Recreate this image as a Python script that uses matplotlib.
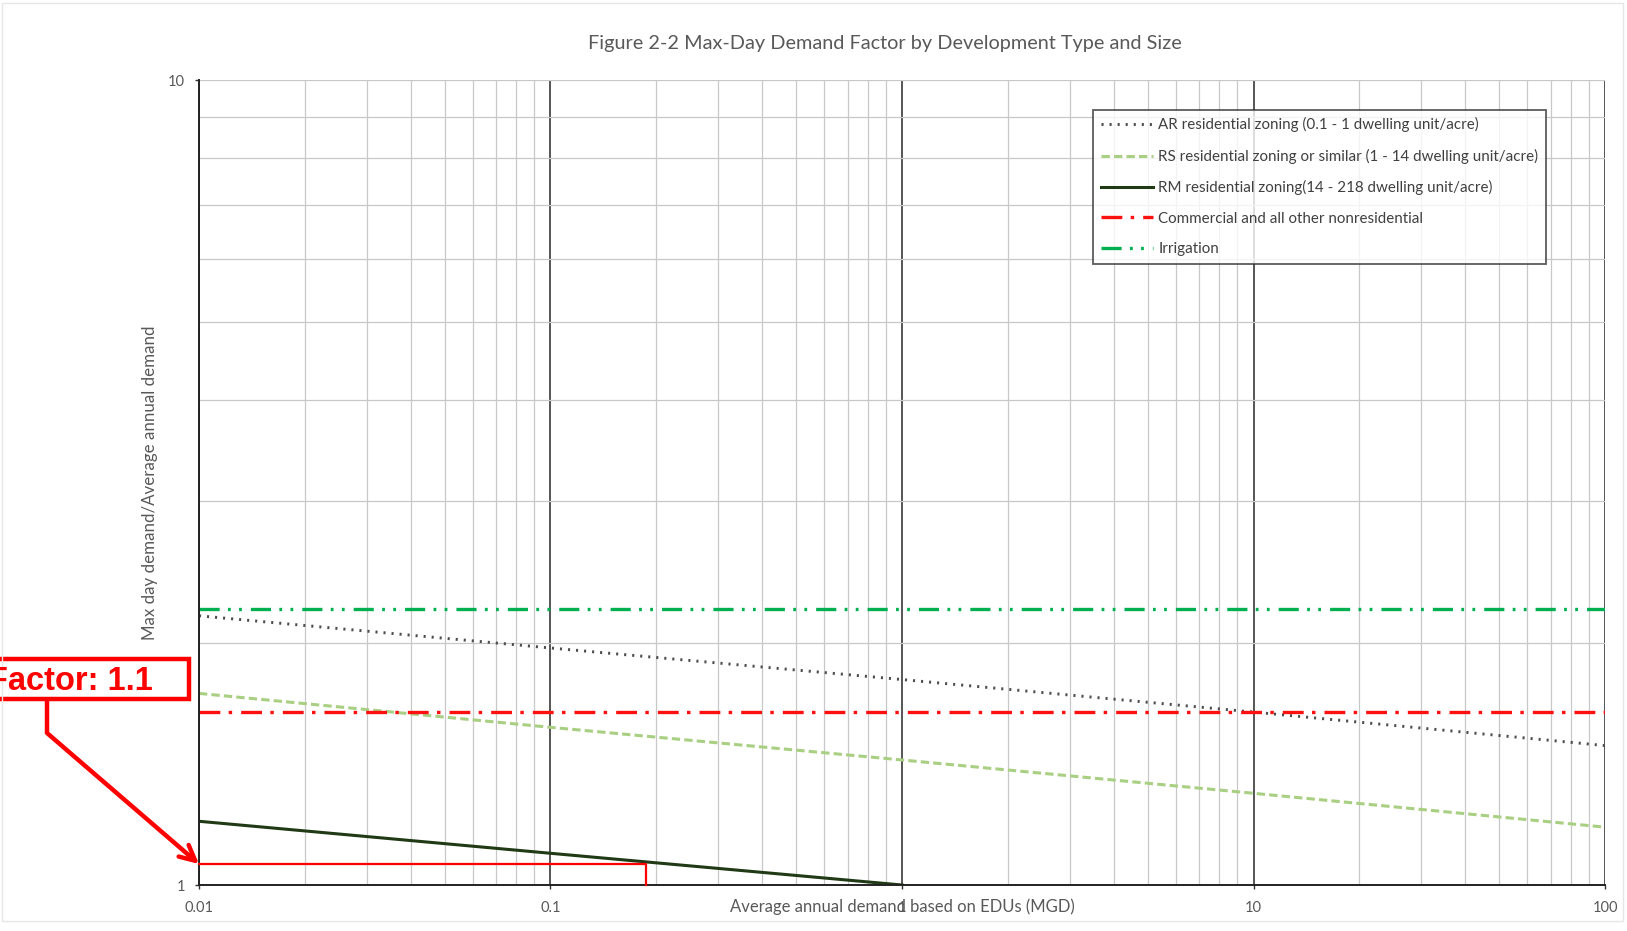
import matplotlib
matplotlib.use("Agg")
import matplotlib.pyplot as plt
from matplotlib.ticker import FixedLocator, FixedFormatter, NullFormatter
from matplotlib.patches import Rectangle

# ---------------- data ----------------
x_points = [0.01, 0.1, 1, 10, 100]
ar_values = [2.16, 1.97, 1.80, 1.64, 1.49]
rs_values = [1.73, 1.57, 1.43, 1.30, 1.18]
rm_x = [0.01, 0.1, 1]
rm_values = [1.20, 1.095, 1.0]
commercial_values = [1.64, 1.64, 1.64, 1.64, 1.64]
irrigation_values = [2.20, 2.20, 2.20, 2.20, 2.20]

labels = [
    "AR residential zoning (0.1 - 1 dwelling unit/acre)",
    "RS residential zoning or similar (1 - 14 dwelling unit/acre)",
    "RM residential zoning(14 - 218 dwelling unit/acre)",
    "Commercial and all other nonresidential",
    "Irrigation",
]
x_ticks = [0.01, 0.1, 1, 10, 100]
x_ticklabels = ["0.01", "0.1", "1", "10", "100"]
y_ticks = [1, 10]
y_ticklabels = ["1", "10"]

title = "Figure 2-2 Max-Day Demand Factor by Development Type and Size"
xlabel = "Average annual demand based on EDUs (MGD)"
ylabel = "Max day demand/Average annual demand"

factor_text = "Factor: 1.1"
factor_x = [0.01, 0.187, 0.187]
factor_y = [1.062, 1.062, 1.0]

# ---------------- style ----------------
plt.rcParams["font.family"] = ["Lato", "DejaVu Sans"]
plt.rcParams["lines.scale_dashes"] = False

fig = plt.figure(figsize=(16.27, 9.31), dpi=100)
ax = fig.add_axes([0.1223, 0.0494, 0.8642, 0.8646])
ax.set_xscale("log")
ax.set_yscale("log")
ax.set_xlim(0.01, 100)
ax.set_ylim(1, 10)

ax.plot(x_points, ar_values, color="#4d4d4d", lw=2.1, dashes=(1.5, 4.3),
        dash_capstyle="butt", label=labels[0], zorder=3)
ax.plot(x_points, rs_values, color="#a9cf82", lw=2.2, dashes=(6, 3),
        label=labels[1], zorder=3)
ax.plot(rm_x, rm_values, color="#1f3a14", lw=2.2, label=labels[2], zorder=3)
ax.plot(x_points, commercial_values, color="#ff1010", lw=2.4,
        dashes=(15, 6, 2.5, 6.5), label=labels[3], zorder=3)
ax.plot(x_points, irrigation_values, color="#00b050", lw=2.4,
        dashes=(14.5, 6, 2, 6, 2, 6.5), label=labels[4], zorder=3)

# grid
ax.xaxis.set_major_locator(FixedLocator(x_ticks))
ax.xaxis.set_major_formatter(FixedFormatter(x_ticklabels))
ax.xaxis.set_minor_formatter(NullFormatter())
ax.yaxis.set_major_locator(FixedLocator(y_ticks))
ax.yaxis.set_major_formatter(FixedFormatter(y_ticklabels))
ax.yaxis.set_minor_formatter(NullFormatter())
ax.grid(True, which="major", axis="x", color="#555555", lw=1.4, zorder=1)
ax.grid(True, which="minor", axis="x", color="#c8c8c8", lw=0.9, zorder=1)
ax.grid(True, which="both", axis="y", color="#c8c8c8", lw=0.9, zorder=1)
ax.tick_params(which="minor", length=0)
ax.tick_params(which="major", length=3, width=1, color="#333333",
               labelsize=10.5, labelcolor="#595959")
ax.tick_params(axis="x", pad=8.5)
ax.tick_params(axis="y", pad=7)

for s in ["top", "right"]:
    ax.spines[s].set_visible(False)
for s in ["left", "bottom"]:
    ax.spines[s].set_color("#222222")
    ax.spines[s].set_linewidth(1.4)
    ax.spines[s].set_zorder(4)

ax.set_xlabel(xlabel, fontsize=12, color="#595959")
ax.xaxis.set_label_coords(0.5, -0.0273)
ax.xaxis.label.set_va("center")
ax.set_ylabel(ylabel, fontsize=12.2, color="#595959")
ax.yaxis.set_label_coords(-0.0349, 0.5)
ax.yaxis.label.set_va("center")

fig.text(885 / 1627, 1 - 44 / 931, title, ha="center", va="center",
         fontsize=14.35, color="#595959")

leg = ax.legend(loc="upper right", bbox_to_anchor=(0.958, 0.963),
                fontsize=10.9, frameon=True, fancybox=False,
                handlelength=3.45, labelspacing=1.08, borderpad=0.5,
                handletextpad=0.35, borderaxespad=0)
leg.get_frame().set_edgecolor("#333333")
leg.get_frame().set_linewidth(1.3)
for t in leg.get_texts():
    t.set_color("#404040")
leg.set_zorder(5)

# red bracket marking the factor
ax.plot(factor_x, factor_y, color="red", lw=1.6, clip_on=False, zorder=6)

# overlay for the annotation (image pixel coordinates)
ov = fig.add_axes([0, 0, 1, 1], zorder=10)
ov.set_xlim(0, 1627)
ov.set_ylim(931, 0)
ov.axis("off")
ov.patch.set_alpha(0)
ov.add_patch(Rectangle((-5, 658.5), 194, 40.5, fill=False, edgecolor="red",
                       lw=3.2, clip_on=False))
ov.text(152.5, 681, factor_text, ha="right", va="center", color="red",
        fontsize=23.5, fontweight="bold", family=["Liberation Sans", "DejaVu Sans"])
ov.plot([47, 47], [699, 733], color="red", lw=3.2, solid_capstyle="butt")
ov.annotate("", xy=(199, 864), xytext=(47, 733),
            arrowprops=dict(arrowstyle="->,head_length=1.1,head_width=0.55",
                            color="red", lw=3.2, shrinkA=0, shrinkB=0))
ov.add_patch(Rectangle((2, 3), 1621, 918, fill=False, edgecolor="#e6e6e6",
                       lw=1.0, clip_on=False))

fig.savefig("out.png", dpi=100)
